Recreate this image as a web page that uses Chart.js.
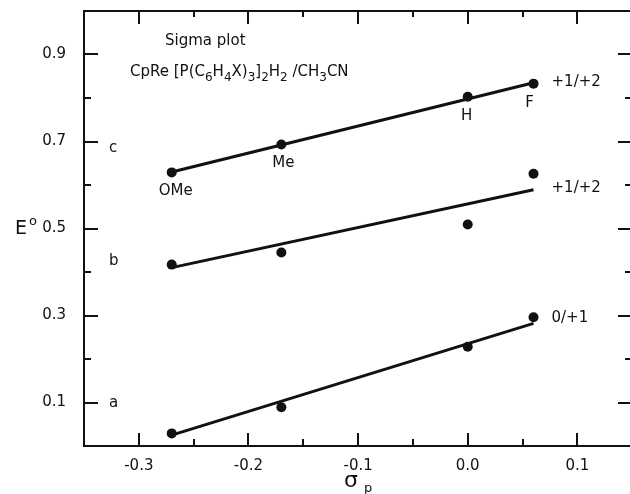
<!DOCTYPE html>
<html>
<head>
<meta charset="utf-8">
<script src="https://cdn.jsdelivr.net/npm/chart.js@4/dist/chart.umd.min.js"></script>
<style>
html, body { margin: 0; padding: 0; background: #fff; overflow: hidden; }
</style>
</head>
<body>
<canvas id="sigma" width="630" height="494"></canvas>
<script>
//data: sigma_p of X and E° (V) for the three couples
const substituents = ['OMe', 'Me', 'H', 'F'];
const sigmaP = [-0.27, -0.17, 0.00, 0.06];
const seriesC = [0.629, 0.693, 0.803, 0.833];
const seriesB = [0.417, 0.445, 0.509, 0.626];
const seriesA = [0.029, 0.089, 0.228, 0.296];

//fitted lines as drawn, ends at sigma -0.27 and 0.06
const fitX = [-0.27, 0.06];
const fitC = [0.630, 0.835];
const fitB = [0.410, 0.589];
const fitA = [0.025, 0.282];

const seriesNames = ['c', 'b', 'a'];
const couples = ['+1/+2', '+1/+2', '0/+1'];

const xMajor = [-0.3, -0.2, -0.1, 0.0, 0.1];
const xMinor = [-0.25, -0.15, -0.05, 0.05];
const yMajor = [0.1, 0.3, 0.5, 0.7, 0.9];
const yMinor = [0.2, 0.4, 0.6, 0.8];

const FONT = '"DejaVu Sans", sans-serif';
const INK = '#111';

function points(ys) {
    return sigmaP.map((x, i) => ({x: x, y: ys[i]}));
}
function fitLine(ys) {
    return fitX.map((x, i) => ({x: x, y: ys[i]}));
}

function pointSet(ys) {
    return {
        data: points(ys),
        showLine: false,
        pointRadius: 5,
        pointBackgroundColor: INK,
        pointBorderColor: INK,
        pointBorderWidth: 0,
    };
}
function lineSet(ys) {
    return {
        data: fitLine(ys),
        showLine: true,
        borderColor: INK,
        borderWidth: 3,
        pointRadius: 0,
    };
}

//draws frame, inward ticks and all the text on the plot
const paperPlugin = {
    id: 'paper',
    afterDraw(chart) {
        const ctx = chart.ctx;
        const a = chart.chartArea;
        const sx = chart.scales.x, sy = chart.scales.y;
        ctx.save();
        ctx.strokeStyle = INK;
        ctx.fillStyle = INK;
        ctx.lineWidth = 2;
        //right side of the frame lies just off the page
        ctx.beginPath();
        ctx.moveTo(a.right + 4, a.top);
        ctx.lineTo(a.left, a.top);
        ctx.lineTo(a.left, a.bottom);
        ctx.lineTo(a.right + 4, a.bottom);
        ctx.stroke();

        const rightEdge = a.right + 2;
        ctx.beginPath();
        xMajor.concat(xMinor).forEach(v => {
            const major = xMajor.includes(v);
            const px = Math.round(sx.getPixelForValue(v));
            ctx.moveTo(px, a.bottom); ctx.lineTo(px, a.bottom - (major ? 13 : 7));
            ctx.moveTo(px, a.top); ctx.lineTo(px, a.top + (major ? 13 : 6));
        });
        yMajor.concat(yMinor).forEach(v => {
            const major = yMajor.includes(v);
            const py = Math.round(sy.getPixelForValue(v));
            ctx.moveTo(a.left, py); ctx.lineTo(a.left + (major ? 14 : 7), py);
            ctx.moveTo(rightEdge, py); ctx.lineTo(rightEdge - (major ? 14 : 7), py);
        });
        ctx.stroke();

        ctx.textBaseline = 'middle';
        ctx.textAlign = 'left';

        //heading
        ctx.font = '15px ' + FONT;
        ctx.fillText('Sigma plot', 165, 41);
        const parts = [['CpRe [P(C', 0], ['6', 1], ['H', 0], ['4', 1], ['X)', 0], ['3', 1],
            [']', 0], ['2', 1], ['H', 0], ['2', 1], [' /CH', 0], ['3', 1], ['CN', 0]];
        let tx = 130;
        parts.forEach(p => {
            ctx.font = (p[1] ? '12px ' : '15px ') + FONT;
            ctx.fillText(p[0], tx, p[1] ? 78 : 72);
            tx += ctx.measureText(p[0]).width;
        });

        //series letters
        ctx.font = '15px ' + FONT;
        const letterY = [148, 261, 403];
        seriesNames.forEach((n, i) => ctx.fillText(n, 109, letterY[i]));

        //substituent labels under series c
        ctx.textAlign = 'center';
        const subDx = [4, 2, -1, -4];
        substituents.forEach((s, i) => {
            const px = sx.getPixelForValue(sigmaP[i]);
            const py = sy.getPixelForValue(seriesC[i]);
            ctx.fillText(s, px + subDx[i], py + 19);
        });

        //redox couples at right end
        ctx.textAlign = 'left';
        const coupleY = [82, 188, 318];
        couples.forEach((c, i) => ctx.fillText(c, sx.getPixelForValue(0.06) + 18, coupleY[i]));

        //axis titles
        ctx.font = '19px ' + FONT;
        ctx.fillText('E', 15, 229);
        ctx.font = '13px ' + FONT;
        ctx.fillText('o', 29, 222);
        ctx.font = '22px ' + FONT;
        ctx.fillText('\u03c3', 344, 481);
        ctx.font = '13px ' + FONT;
        ctx.fillText('p', 364, 489);
        ctx.restore();
    }
};

const config_sigma = {
    type: 'scatter',
    data: {
        datasets: [
            pointSet(seriesC), pointSet(seriesB), pointSet(seriesA),
            lineSet(fitC), lineSet(fitB), lineSet(fitA),
        ]
    },
    options: {
        responsive: false,
        animation: false,
        layout: {autoPadding: false, padding: {top: 11, right: 0, left: 0, bottom: 0}},
        scales: {
            x: {
                type: 'linear',
                min: -0.35,
                max: 0.148,
                grid: {display: false},
                border: {display: false},
                afterBuildTicks: s => { s.ticks = xMajor.map(v => ({value: v})); },
                afterFit: s => { s.height = 48; s.paddingLeft = 0; s.paddingRight = 0; },
                ticks: {
                    color: INK,
                    padding: 3,
                    font: {family: FONT, size: 15},
                    callback: v => v.toFixed(1),
                }
            },
            y: {
                type: 'linear',
                min: 0,
                max: 1.0,
                grid: {display: false},
                border: {display: false},
                afterBuildTicks: s => { s.ticks = yMajor.map(v => ({value: v})); },
                afterFit: s => { s.width = 84; s.paddingTop = 0; s.paddingBottom = 0; },
                ticks: {
                    color: INK,
                    padding: 10,
                    font: {family: FONT, size: 15},
                    callback: v => v.toFixed(1),
                }
            }
        },
        plugins: {
            legend: {display: false},
            tooltip: {enabled: false},
        }
    },
    plugins: [paperPlugin]
};

//render
var sigmaChart = new Chart(
    document.getElementById('sigma'),
    config_sigma
);
</script>
</body>
</html>
